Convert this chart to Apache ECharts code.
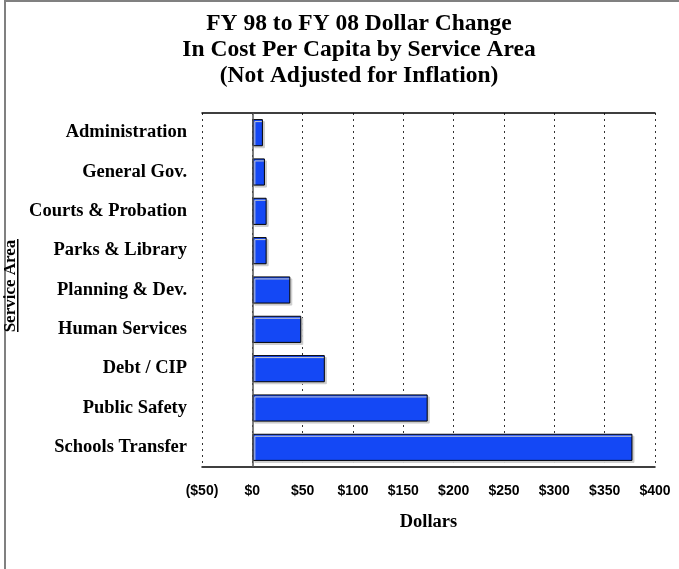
<!DOCTYPE html>
<html>
<head>
<meta charset="utf-8">
<script src="https://cdn.jsdelivr.net/npm/echarts@6/dist/echarts.min.js"></script>
<style>
  html, body { margin: 0; padding: 0; background: #fff; }
  #chart { width: 679px; height: 569px; }
</style>
</head>
<body>
<div id="chart"></div>
<script>
"use strict"
// service areas, top to bottom
const areas = ['Administration', 'General Gov.', 'Courts & Probation', 'Parks & Library',
    'Planning & Dev.', 'Human Services', 'Debt / CIP', 'Public Safety', 'Schools Transfer'];
// dollar change per capita, FY98 -> FY08
const changes = [10.5, 12.5, 14.2, 14.2, 37.7, 48.6, 72, 174.2, 377.6];
const xMin = -50, xMax = 400, xStep = 50;

const serif = '"Liberation Serif", "Times New Roman", serif';
const sans = '"Liberation Sans", Arial, sans-serif';

let chart = echarts.init(document.getElementById('chart'));

chart.setOption({
    animation: false,
    backgroundColor: '#fff',
    title: {
        text: 'FY 98 to FY 08 Dollar Change\nIn Cost Per Capita by Service Area\n(Not Adjusted for Inflation)',
        left: 354,
        top: 6,
        textAlign: 'center',
        textStyle: { fontFamily: serif, fontWeight: 'bold', fontSize: 23.5, lineHeight: 26, color: '#000' }
    },
    grid: { left: 202, right: 24, top: 113, bottom: 102, containLabel: false },
    xAxis: [{
        type: 'value',
        min: xMin, max: xMax, interval: xStep,
        name: 'Dollars',
        nameLocation: 'middle',
        nameGap: 46,
        nameTextStyle: { fontFamily: serif, fontWeight: 'bold', fontSize: 18.5, color: '#000' },
        axisLine: { show: true, lineStyle: { color: '#000', width: 1.5 } },
        axisTick: { show: false },
        axisLabel: {
            margin: 17,
            fontFamily: sans, fontWeight: 'bold', fontSize: 14, color: '#000',
            formatter: function (v) { return v < 0 ? '($' + (-v) + ')' : '$' + v; }
        },
        splitLine: { show: true, lineStyle: { color: '#333', type: [2, 4], width: 1 } }
    }, {
        type: 'value',
        position: 'top',
        min: xMin, max: xMax, interval: xStep,
        axisLine: { show: true, lineStyle: { color: '#000', width: 1.5 } },
        axisTick: { show: false },
        axisLabel: { show: false },
        splitLine: { show: false }
    }],
    yAxis: {
        type: 'category',
        data: areas,
        inverse: true,
        axisLine: { show: false, onZero: false },
        axisTick: { show: false },
        axisLabel: { margin: 15, fontFamily: serif, fontWeight: 'bold', fontSize: 18.5, color: '#000' }
    },
    series: [{
        type: 'bar',
        data: changes,
        xAxisIndex: 0,
        barCategoryGap: '31%',
        itemStyle: {
            color: '#1448F5',
            borderColor: '#000',
            borderWidth: 1,
            shadowColor: '#cccccc',
            shadowOffsetX: 2,
            shadowOffsetY: 2,
            shadowBlur: 0
        },
        markLine: {
            silent: true,
            symbol: 'none',
            label: { show: false },
            lineStyle: { color: '#555', type: 'solid', width: 1.5 },
            data: [{ xAxis: 0 }]
        }
    }],
    graphic: [
        { type: 'rect', shape: { x: 4, y: 0, width: 675, height: 2 }, style: { fill: '#808080' } },
        { type: 'rect', shape: { x: 4, y: 0, width: 2, height: 569 }, style: { fill: '#808080' } },
        {
            type: 'text', x: 11, y: 286, rotation: Math.PI / 2,
            style: {
                text: 'Service Area', textAlign: 'center', textVerticalAlign: 'middle',
                font: 'bold 17px ' + serif, fill: '#000'
            }
        },
        { type: 'rect', shape: { x: 17, y: 239, width: 1.5, height: 93 }, style: { fill: '#000' } }
    ]
});
</script>
</body>
</html>
